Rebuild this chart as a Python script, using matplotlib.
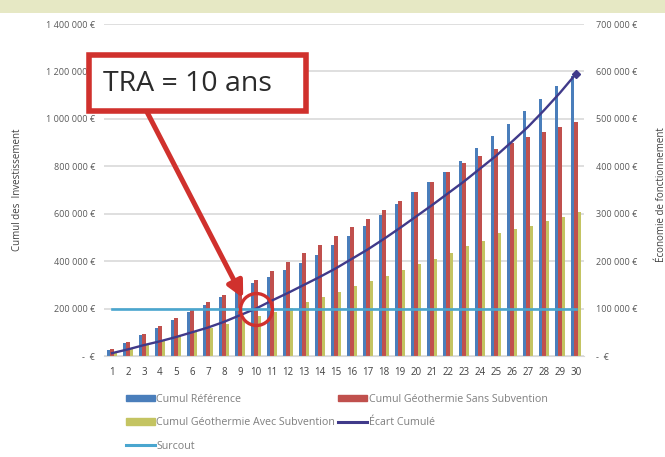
import numpy as np
import matplotlib
matplotlib.use("Agg")
import matplotlib.pyplot as plt
from matplotlib.patches import Rectangle, Patch
from matplotlib.lines import Line2D
from matplotlib.ticker import FuncFormatter

plt.rcParams['font.family'] = ['Open Sans', 'DejaVu Sans']

# data
years = list(range(1, 31))
cumul_reference = [25e3, 55e3, 89e3, 119e3, 153e3, 186e3, 216e3, 250e3, 280e3, 309e3,
                   335e3, 364e3, 394e3, 428e3, 466e3, 504e3, 547e3, 593e3, 640e3, 691e3,
                   733e3, 775e3, 822e3, 877e3, 928e3, 979e3, 1034e3, 1085e3, 1140e3, 1182e3]
cumul_sans_subv = [30e3, 59e3, 93e3, 127e3, 161e3, 195e3, 229e3, 258e3, 288e3, 322e3,
                   360e3, 398e3, 436e3, 470e3, 504e3, 542e3, 576e3, 614e3, 653e3, 691e3,
                   733e3, 775e3, 814e3, 843e3, 873e3, 898e3, 924e3, 945e3, 966e3, 987e3]
cumul_avec_subv = [13e3, 30e3, 47e3, 64e3, 85e3, 102e3, 119e3, 136e3, 153e3, 169e3,
                   186e3, 203e3, 229e3, 250e3, 271e3, 297e3, 318e3, 339e3, 364e3, 390e3,
                   411e3, 436e3, 462e3, 487e3, 517e3, 534e3, 547e3, 568e3, 585e3, 606e3]
ecart_cumule = [6e3, 14e3, 23e3, 31e3, 40e3, 50e3, 60e3, 72e3, 86e3, 100e3,
                117e3, 133e3, 150e3, 167e3, 185e3, 205e3, 225e3, 247e3, 270e3, 294e3,
                318e3, 343e3, 368e3, 395e3, 422e3, 452e3, 483e3, 518e3, 555e3, 595e3]
surcout = [100e3] * 30
tra = 10

labels = ['Cumul Référence', 'Cumul Géothermie Sans Subvention',
          'Cumul Géothermie Avec Subvention', 'Écart Cumulé', 'Surcout']
c_ref = '#4a7ebb'
c_sans = '#c0504d'
c_avec = '#c4c462'
c_ecart = '#403a8a'
c_surcout = '#4aa6cf'
c_red = '#d0312d'
grey = '#595959'

def euro(v, pos):
    if v == 0:
        return '-  €'
    return '{:,}'.format(int(round(v))).replace(',', ' ') + ' €'

fig = plt.figure(figsize=(6.65, 4.57), dpi=100)

# top band
fig.patches.append(Rectangle((0, 1 - 13 / 457), 1, 13 / 457, transform=fig.transFigure,
                             facecolor='#e6e8c4', edgecolor='none', zorder=0))

ax = fig.add_axes([104 / 665, 101 / 457, 480 / 665, 332 / 457])
x = np.array(years)
w = 0.22
ax.bar(x - w, cumul_reference, w, color=c_ref, zorder=2)
ax.bar(x, cumul_sans_subv, w, color=c_sans, zorder=2)
ax.bar(x + w, cumul_avec_subv, w, color=c_avec, zorder=2)
ax.set_xlim(0.5, 30.5)
ax.set_ylim(0, 1400000)
ax.set_yticks(np.arange(0, 1400001, 200000))
ax.yaxis.set_major_formatter(FuncFormatter(euro))
ax.set_xticks(years)
ax.yaxis.grid(True, color='#d9d9d9', lw=1.2, zorder=0)
ax.set_axisbelow(True)
for s in ['top', 'left', 'right']:
    ax.spines[s].set_visible(False)
ax.spines['bottom'].set_color('#d9d9d9')
ax.tick_params(axis='y', length=0, pad=6.5, labelsize=6.5, labelcolor=grey)
ax.tick_params(axis='x', length=0, pad=8, labelsize=7, labelcolor='#404040')

ax2 = ax.twinx()
ax2.plot(x, ecart_cumule, color=c_ecart, lw=1.7, zorder=3)
ax2.plot(x[-1], ecart_cumule[-1], marker='D', ms=4, color=c_ecart)
ax2.plot(x, surcout, color=c_surcout, lw=1.9, zorder=3)
ax2.set_ylim(0, 700000)
ax2.set_yticks(np.arange(0, 700001, 100000))
ax2.yaxis.set_major_formatter(FuncFormatter(euro))
for s in ax2.spines.values():
    s.set_visible(False)
ax2.tick_params(axis='y', length=0, pad=9, labelsize=6.5, labelcolor=grey)

# TRA marker
ax2.plot([tra], [surcout[tra - 1]], marker='o', ms=23, mfc='none', mec=c_red, mew=2.4, zorder=5)
ax2.annotate('', xy=(tra - 0.8, 122000), xycoords='data',
             xytext=(147 / 665, 1 - 112 / 457), textcoords='figure fraction',
             arrowprops=dict(arrowstyle='-|>', color=c_red, lw=3.6, mutation_scale=24,
                             shrinkA=0, shrinkB=0), zorder=6)
fig.patches.append(Rectangle((89 / 665, 1 - 111 / 457), 217 / 665, 56 / 457,
                             transform=fig.transFigure, facecolor='white',
                             edgecolor=c_red, lw=4, zorder=7))
fig.text(103 / 665, 1 - 84 / 457, 'TRA = 10 ans', fontsize=20.5, color='#2b2b2b',
         va='center', ha='left', zorder=8)

fig.text(18 / 665, 1 - 190 / 457, 'Cumul des  Investissement', rotation=90,
         fontsize=7, color='#404040', va='center', ha='center')
fig.text(661 / 665, 1 - 195 / 457, 'Économie de fonctionnement', rotation=90,
         fontsize=7, color='#404040', va='center', ha='center')

handles = [Patch(color=c_ref), Patch(color=c_sans), Patch(color=c_avec),
           Line2D([], [], color=c_ecart, lw=2.2), Line2D([], [], color=c_surcout, lw=2.2)]
order = [0, 2, 4, 1, 3]
fig.legend([handles[i] for i in order], [labels[i] for i in order], ncol=2,
           loc='upper left', bbox_to_anchor=(126 / 665, 1 - 394 / 457),
           frameon=False, fontsize=7.7, labelcolor='#7f7f7f', handlelength=2.7,
           handleheight=0.55, handletextpad=0.15, columnspacing=0.25, labelspacing=1.15,
           borderaxespad=0, borderpad=0)

fig.savefig('out.png', dpi=100)
